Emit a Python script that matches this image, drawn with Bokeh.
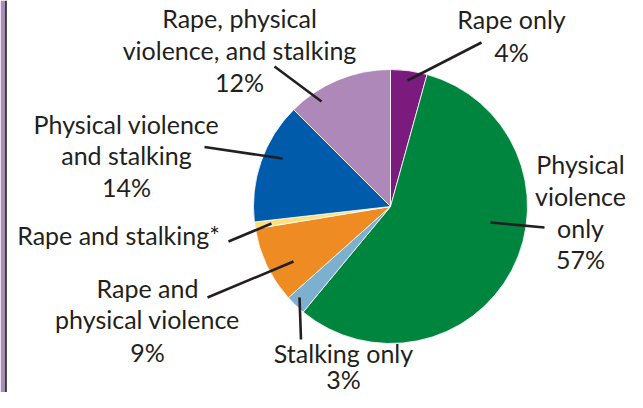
import numpy as np
from bokeh.plotting import figure
from bokeh.models import Range1d, ColumnDataSource
from bokeh.core.properties import value
from bokeh.embed import file_html
from bokeh.resources import INLINE

# ---- data ----
categories = ["Rape only", "Physical violence only", "Stalking only",
              "Rape and physical violence", "Rape and stalking*",
              "Physical violence and stalking",
              "Rape, physical violence, and stalking"]
shares = [4.3, 56.7, 2.4, 9.0, 0.8, 14.3, 12.5]
pct_labels = ["4%", "57%", "3%", "9%", "", "14%", "12%"]
colors = ["#7A1B7D", "#00853E", "#7DAFCF", "#EE8B22", "#FFDF7A", "#005BAA", "#AE88B8"]

# label text split into lines (category wording + percentage)
label_lines = [
    ["Rape only", "4%"],
    ["Physical", "violence", "only", "57%"],
    ["Stalking only", "3%"],
    ["Rape and", "physical violence", "9%"],
    ["Rape and stalking*"],
    ["Physical violence", "and stalking", "14%"],
    ["Rape, physical", "violence, and stalking", "12%"],
]

# ---- layout (pixel coordinates of the picture) ----
CX, CY, R = 390, 206, 137
label_x = [511, 580, 343, 147, 118, 126, 239]
label_baselines = [
    [28, 61],
    [173, 205, 237, 268],
    [362, 388],
    [297, 328, 361],
    [244],
    [133, 164.5, 196.5],
    [27, 59, 91],
]
TEXT_DY = 10  # rendered baseline sits this much below the anchor
leaders = [  # (x0, y0, x1, y1)
    (407, 80, 481, 42),
    (490, 222, 544, 227),
    (299, 297, 300.5, 339),
    (293, 261, 207, 297),
    (271, 223, 228, 241),
    (282, 158, 204, 146.5),
    (321, 101, 274, 66),
]

W, H = 627, 392
p = figure(width=W, height=H, output_backend="svg", toolbar_location=None,
           x_range=Range1d(0, W), y_range=Range1d(-H, 0),
           min_border=0, outline_line_color=None)
p.axis.visible = False
p.grid.visible = False
p.background_fill_color = "white"

# page frame at the left edge
p.quad(left=[0], right=[4.3], bottom=[-H], top=[0], fill_color="#AC8CBE", line_color=None)
p.quad(left=[4.3], right=[6.4], bottom=[-H], top=[0], fill_color="#3A3A3A", line_color=None)

vals = np.array(shares, dtype=float)
frac = vals / vals.sum()
cum = np.cumsum(frac)
start = np.pi / 2 - 2 * np.pi * np.concatenate([[0], cum[:-1]])
end = np.pi / 2 - 2 * np.pi * cum

src = ColumnDataSource(dict(cat=categories, start=start, end=end, color=colors))
p.wedge(x=CX, y=-CY, radius=R, start_angle="start", end_angle="end",
        direction="clock", fill_color="color", line_color="white",
        line_width=0.8, source=src)

# leader lines
p.segment(x0=[l[0] for l in leaders], y0=[-l[1] for l in leaders],
          x1=[l[2] for l in leaders], y1=[-l[3] for l in leaders],
          line_color="#231F20", line_width=2.6)

# labels
tx, ty, tt = [], [], []
for i, lines in enumerate(label_lines):
    for ln, b in zip(lines, label_baselines[i]):
        tx.append(label_x[i]); ty.append(-(b - TEXT_DY)); tt.append(ln)
p.text(x=tx, y=ty, text=tt, text_font=value("Lato"), text_font_size="25px",
       text_color="#231F20", text_align="center", text_baseline="alphabetic")

open("out.html", "w").write(file_html(p, INLINE))
